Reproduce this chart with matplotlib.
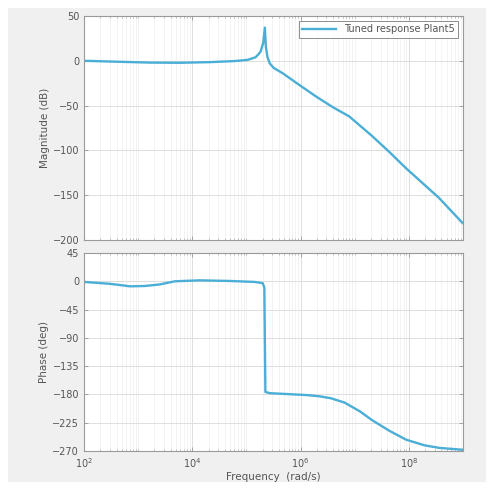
import matplotlib
matplotlib.use("Agg")
import matplotlib.pyplot as plt
from matplotlib.ticker import LogLocator, NullFormatter, FixedLocator
from matplotlib.patches import Rectangle

# ---- data ----
mag_freq = [1.0e2, 3.0e2, 1.66e3, 5.9e3, 2.1e4, 6.0e4, 1.05e5, 1.48e5, 1.82e5,
            2.04e5, 2.19e5, 2.29e5, 2.45e5, 2.7e5, 3.2e5, 4.7e5, 9.5e5, 1.95e6,
            4.0e6, 7.9e6, 2.1e7, 4.4e7, 8.9e7, 3.6e8, 9.8e8]
mag_db = [0, -0.8, -2, -2.2, -1.5, -0.3, 1, 4, 10,
          20, 37, 15, 4, -3, -8, -14, -27, -40,
          -52, -62, -84, -102, -120, -153, -181]

phase_freq = [1.0e2, 3.0e2, 7.1e2, 1.32e3, 2.5e3, 4.8e3, 1.38e4, 4.9e4, 1.41e5,
              2.0e5, 2.14e5, 2.24e5, 2.7e5, 1.29e6, 2.24e6, 3.6e6, 6.5e6, 1.25e7,
              2.1e7, 4.4e7, 8.9e7, 1.95e8, 3.6e8, 9.8e8]
phase_deg = [-1, -4, -8, -7.5, -5, 0, 1.5, 0.5, -1,
             -3, -10, -176, -178, -181, -183, -186, -193, -207,
             -221, -238, -252, -261, -265, -268]

series_label = "Tuned response Plant5"
xlabel = "Frequency  (rad/s)"
mag_label = "Magnitude (dB)"
phase_label = "Phase (deg)"
x_ticks = [1e2, 1e4, 1e6, 1e8]
x_ticklabels = [r"$10^2$", r"$10^4$", r"$10^6$", r"$10^8$"]
mag_ticks = [50, 0, -50, -100, -150, -200]
phase_ticks = [45, 0, -45, -90, -135, -180, -225, -270]

line_color = "#4aaed6"
text_color = "#555555"
spine_color = "#9a9a9a"

fig = plt.figure(figsize=(4.92, 4.90), dpi=100)
fig.patch.set_facecolor("white")
bg = fig.add_axes([0, 0, 1, 1], zorder=-10)
bg.set_axis_off()
bg.set_xlim(0, 492)
bg.set_ylim(490, 0)
bg.add_patch(Rectangle((8, 8), 486 - 8, 482 - 8, facecolor="#f0f0f0", edgecolor="none"))

left = 84 / 492
width = (463 - 84) / 492
ax1 = fig.add_axes([left, 1 - 240 / 490, width, (240 - 16) / 490])
ax2 = fig.add_axes([left, 1 - 451 / 490, width, (451 - 253) / 490])

ax1.plot(mag_freq, mag_db, color=line_color, lw=1.7, label=series_label,
         solid_joinstyle="round")
ax2.plot(phase_freq, phase_deg, color=line_color, lw=1.7, solid_joinstyle="round")

for ax in (ax1, ax2):
    ax.set_xscale("log")
    ax.set_xlim(1e2, 1e9)
    ax.xaxis.set_major_locator(FixedLocator(x_ticks))
    ax.xaxis.set_minor_locator(LogLocator(base=10, subs=[1, 2, 3, 4, 5, 6, 7, 8, 9], numticks=50))
    ax.xaxis.set_minor_formatter(NullFormatter())
    ax.grid(True, which="major", color="#dedede", lw=0.7)
    ax.grid(True, which="minor", axis="x", color="#eeeeee", lw=0.5)
    ax.set_facecolor("white")
    for s in ax.spines.values():
        s.set_color(spine_color)
        s.set_linewidth(0.8)
    ax.tick_params(direction="in", length=3, width=0.6, colors=spine_color,
                   labelcolor=text_color, labelsize=7, top=True, right=True)
    ax.tick_params(which="minor", direction="in", length=1.5, width=0.4,
                   colors=spine_color, top=True)
    ax.set_axisbelow(True)

ax1.set_ylim(-200, 50)
ax1.set_yticks(mag_ticks)
ax1.set_xticklabels([])
ax1.set_ylabel(mag_label, fontsize=7.5, color=text_color, labelpad=2)

ax2.set_ylim(-270, 45)
ax2.set_yticks(phase_ticks)
ax2.set_xticklabels(x_ticklabels)
ax2.set_ylabel(phase_label, fontsize=7.5, color=text_color, labelpad=2)
ax2.set_xlabel(xlabel, fontsize=7.5, color=text_color, labelpad=2)

leg = ax1.legend(loc="upper right", fontsize=7, frameon=True, fancybox=False,
                 borderaxespad=0.5, handlelength=3.5, borderpad=0.35)
leg.get_frame().set_edgecolor("#707070")
leg.get_frame().set_linewidth(0.7)
for t in leg.get_texts():
    t.set_color(text_color)

fig.savefig("out.png", dpi=100, facecolor=fig.get_facecolor())
